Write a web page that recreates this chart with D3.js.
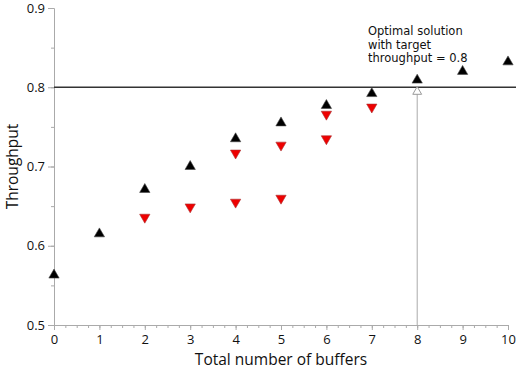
<!DOCTYPE html>
<html>
<head>
<meta charset="utf-8">
<script src="https://cdn.jsdelivr.net/npm/d3@7"></script>
<style>
  body { margin: 0; background: #fff; }
  text { font-family: "Open Sans", "Noto Sans", sans-serif; fill: #111; }
</style>
</head>
<body>
<script>
// data
const buffers = [0, 1, 2, 3, 4, 5, 6, 7, 8, 9, 10];
const bestThroughput = [0.563, 0.615, 0.671, 0.700, 0.735, 0.755, 0.777, 0.792, 0.809, 0.820, 0.832];
const otherBuffers = [2, 3, 4, 4, 5, 5, 6, 6, 7];
const otherThroughput = [0.636, 0.649, 0.655, 0.717, 0.660, 0.727, 0.735, 0.766, 0.775];
const xTicks = [0, 1, 2, 3, 4, 5, 6, 7, 8, 9, 10];
const yTicks = [0.5, 0.6, 0.7, 0.8, 0.9];
const target = 0.8;
const optimalBuffers = 8;
const noteLines = ['Optimal solution', 'with target', 'throughput = 0.8'];

const W = 516, H = 369;
const svg = d3.select('body').append('svg')
  .attr('width', W)
  .attr('height', H);

const x = d3.scaleLinear().domain([0, 10]).range([54, 508]);
const y = d3.scaleLinear().domain([0.5, 0.9]).range([325, 8]);

// y axis
svg.append('g')
  .attr('transform', 'translate(54,0)')
  .call(d3.axisLeft(y).tickValues(d3.range(0.5, 0.91, 0.05)).tickSize(3).tickFormat(''))
  .call(g => g.selectAll('path,line').attr('stroke', '#aaa'));
const yAxis = svg.append('g')
  .attr('transform', 'translate(54,0)')
  .call(d3.axisLeft(y).tickValues(yTicks).tickSize(6).tickPadding(3).tickFormat(d3.format('.1f')));
yAxis.select('.domain').remove();
yAxis.selectAll('line').attr('stroke', '#aaa');
yAxis.selectAll('text').attr('font-size', 13).attr('fill', '#111');

// x axis
svg.append('g')
  .attr('transform', 'translate(0,325)')
  .call(d3.axisBottom(x).tickValues(d3.range(0, 10.01, 0.25)).tickSize(3).tickSizeOuter(0).tickFormat(''))
  .call(g => g.selectAll('path,line').attr('stroke', '#aaa'));
const xAxis = svg.append('g')
  .attr('transform', 'translate(0,325)')
  .call(d3.axisBottom(x).tickValues(xTicks).tickSize(5).tickPadding(5).tickFormat(d3.format('d')));
xAxis.select('.domain').remove();
xAxis.selectAll('line').attr('stroke', '#aaa');
xAxis.selectAll('text').attr('font-size', 13).attr('fill', '#111');

// axis titles
svg.append('text')
  .attr('transform', `translate(18,${y(0.7)}) rotate(-90)`)
  .attr('text-anchor', 'middle')
  .attr('font-size', 15.5)
  .text('Throughput');
svg.append('text')
  .attr('x', 281).attr('y', 364.5)
  .attr('text-anchor', 'middle')
  .attr('font-size', 15.5)
  .text('Total number of buffers');

// target line
svg.append('line')
  .attr('x1', x(0)).attr('x2', W)
  .attr('y1', y(target)).attr('y2', y(target))
  .attr('stroke', '#333').attr('stroke-width', 1.3);

// arrow pointing at the optimum
svg.append('line')
  .attr('x1', x(optimalBuffers)).attr('x2', x(optimalBuffers))
  .attr('y1', y(0.5)).attr('y2', y(target) + 6)
  .attr('stroke', '#aaa');
svg.append('path')
  .attr('d', d3.symbol(d3.symbolTriangle, 34)())
  .attr('transform', `translate(${x(optimalBuffers)},${y(target) + 4.5})`)
  .attr('fill', '#fff').attr('stroke', '#999');

// annotation
const note = svg.append('text')
  .attr('x', 368).attr('y', 35)
  .style('font-family', '"DejaVu Sans", sans-serif')
  .attr('font-size', 11.5);
note.selectAll('tspan')
  .data(noteLines)
  .enter().append('tspan')
  .attr('x', 368)
  .attr('dy', (d, i) => i === 0 ? 0 : 13.5)
  .text(d => d);

// markers
const tri = d3.symbol(d3.symbolTriangle, 46);
svg.selectAll('.other')
  .data(otherBuffers.map((b, i) => [b, otherThroughput[i]]))
  .enter().append('path')
  .attr('class', 'other')
  .attr('d', tri)
  .attr('transform', d => `translate(${x(d[0])},${y(d[1])}) rotate(180)`)
  .attr('fill', '#ee0000').attr('stroke', '#a33').attr('stroke-width', 0.6);
svg.selectAll('.best')
  .data(buffers.map((b, i) => [b, bestThroughput[i]]))
  .enter().append('path')
  .attr('class', 'best')
  .attr('d', tri)
  .attr('transform', d => `translate(${x(d[0])},${y(d[1])})`)
  .attr('fill', '#000').attr('stroke', '#444').attr('stroke-width', 0.6);
</script>
</body>
</html>
